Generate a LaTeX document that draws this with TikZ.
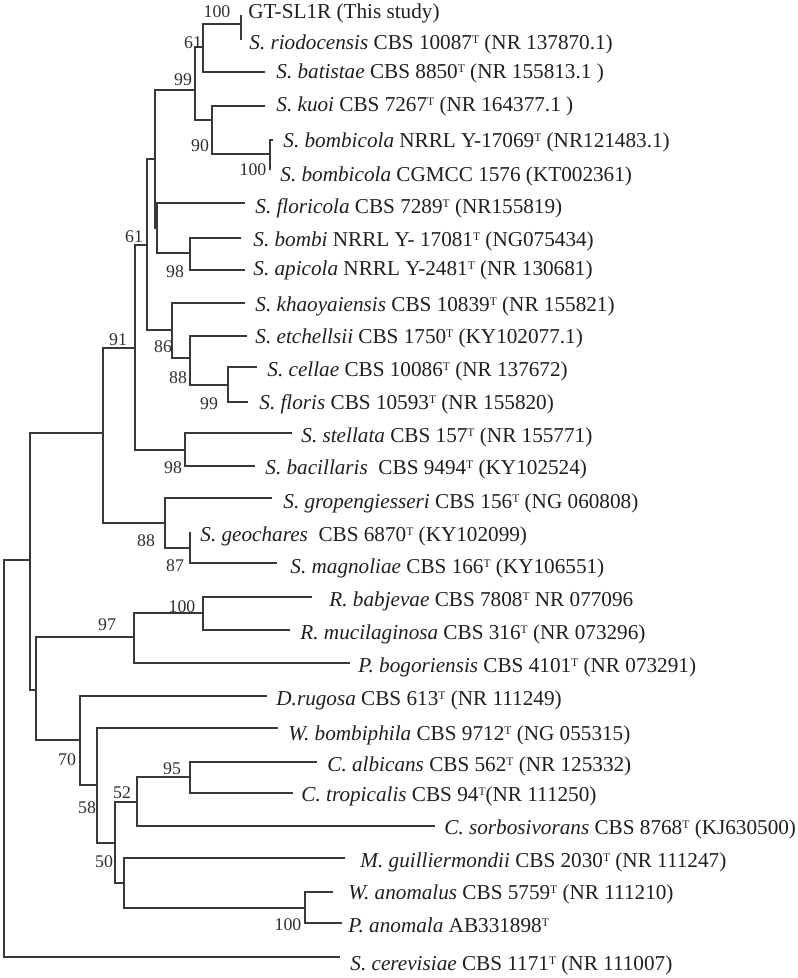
\documentclass[tikz,border=0pt]{standalone}
\usepackage{fontspec}
\setmainfont{Liberation Serif}
\newcommand{\tp}{\raisebox{0.55ex}{\fontsize{5.8}{6}\selectfont T}}
\begin{document}
\begin{tikzpicture}[x=0.5pt,y=-0.5pt,
    branch/.style={draw=black!78,line width=0.9pt},
    taxon/.style={anchor=west,inner sep=0pt,text=black!88,font=\fontsize{10.6}{12}\selectfont},
    boot/.style={inner sep=0pt,text=black!82,font=\fontsize{8.9}{10}\selectfont}]
  \useasboundingbox (0,0) rectangle (797,978);
  % tips
  \coordinate (gtsl) at (241,15);
  \coordinate (riodocensis) at (241,40);
  \coordinate (batistae) at (265,72);
  \coordinate (kuoi) at (265,106);
  \coordinate (bombicolaA) at (273,140);
  \coordinate (bombicolaB) at (270,170);
  \coordinate (floricola) at (245,203);
  \coordinate (bombi) at (241,238);
  \coordinate (apicola) at (245,270);
  \coordinate (khaoyaiensis) at (245,303);
  \coordinate (etchellsii) at (247,336);
  \coordinate (cellae) at (257,367);
  \coordinate (floris) at (248,402);
  \coordinate (stellata) at (292,433);
  \coordinate (bacillaris) at (255,466);
  \coordinate (gropengiesseri) at (272,498);
  \coordinate (geochares) at (190,532);
  \coordinate (magnoliae) at (277,563);
  \coordinate (babjevae) at (312,597);
  \coordinate (mucilaginosa) at (290,630);
  \coordinate (bogoriensis) at (350,663);
  \coordinate (rugosa) at (267,696);
  \coordinate (bombiphila) at (278,728);
  \coordinate (albicans) at (317,762);
  \coordinate (tropicalis) at (293,793);
  \coordinate (sorbosivorans) at (435,826);
  \coordinate (guilliermondii) at (345,858);
  \coordinate (wanomalus) at (333,892);
  \coordinate (panomala) at (342,923);
  \coordinate (cerevisiae) at (340,957);
  % internal nodes
  \coordinate (n1) at (241,24);
  \coordinate (n2) at (203,47);
  \coordinate (n3) at (270,154);
  \coordinate (n4) at (212,120);
  \coordinate (n5) at (195,90);
  \coordinate (n6) at (190,253);
  \coordinate (n7) at (157,228);
  \coordinate (n8) at (155,159);
  \coordinate (n9) at (228,385);
  \coordinate (n10) at (190,358);
  \coordinate (n11) at (172,330);
  \coordinate (n12) at (147,245);
  \coordinate (n13) at (185,450);
  \coordinate (n14) at (135,348);
  \coordinate (n15) at (190,548);
  \coordinate (n16) at (165,523);
  \coordinate (n17) at (103,433);
  \coordinate (n18) at (203,613);
  \coordinate (n19) at (134,637);
  \coordinate (n20) at (305,908);
  \coordinate (n21) at (124,883);
  \coordinate (n22) at (190,777);
  \coordinate (n23) at (137,802);
  \coordinate (n24) at (115,843);
  \coordinate (n25) at (97,785);
  \coordinate (n26) at (80,740);
  \coordinate (n27) at (36,690);
  \coordinate (n28) at (30,560);
  \coordinate (root) at (4,560);
  % branches
  \draw[branch] (gtsl) -| (n1) |- (riodocensis);
  \draw[branch] (n1) -| (n2) |- (batistae);
  \draw[branch] (bombicolaA) -| (n3) |- (bombicolaB);
  \draw[branch] (kuoi) -| (n4) |- (n3);
  \draw[branch] (n2) -| (n5) |- (n4);
  \draw[branch] (bombi) -| (n6) |- (apicola);
  \draw[branch] (floricola) -| (n7) |- (n6);
  \draw[branch] (n5) -| (n8) |- (n7);
  \draw[branch] (cellae) -| (n9) |- (floris);
  \draw[branch] (etchellsii) -| (n10) |- (n9);
  \draw[branch] (khaoyaiensis) -| (n11) |- (n10);
  \draw[branch] (n8) -| (n12) |- (n11);
  \draw[branch] (stellata) -| (n13) |- (bacillaris);
  \draw[branch] (n12) -| (n14) |- (n13);
  \draw[branch] (geochares) -| (n15) |- (magnoliae);
  \draw[branch] (gropengiesseri) -| (n16) |- (n15);
  \draw[branch] (n14) -| (n17) |- (n16);
  \draw[branch] (babjevae) -| (n18) |- (mucilaginosa);
  \draw[branch] (n18) -| (n19) |- (bogoriensis);
  \draw[branch] (wanomalus) -| (n20) |- (panomala);
  \draw[branch] (guilliermondii) -| (n21) |- (n20);
  \draw[branch] (albicans) -| (n22) |- (tropicalis);
  \draw[branch] (n22) -| (n23) |- (sorbosivorans);
  \draw[branch] (n23) -| (n24) |- (n21);
  \draw[branch] (bombiphila) -| (n25) |- (n24);
  \draw[branch] (rugosa) -| (n26) |- (n25);
  \draw[branch] (n19) -| (n27) |- (n26);
  \draw[branch] (n17) -| (n28) |- (n27);
  \draw[branch] (n28) -| (root) |- (cerevisiae);
  % taxon names
  \node[taxon] (lgtsl) at (248,13) {GT-SL1R (This study)};
  \node[taxon] (lriodocensis) at (249,44) {\textit{S. riodocensis} CBS 10087\tp{} (NR 137870.1)};
  \node[taxon] (lbatistae) at (276,73) {\textit{S. batistae} CBS 8850\tp{} (NR 155813.1 )};
  \node[taxon] (lkuoi) at (276,106) {\textit{S. kuoi} CBS 7267\tp{} (NR 164377.1 )};
  \node[taxon] (lbombicolaA) at (283,142) {\textit{S. bombicola} NRRL Y-17069\tp{} (NR121483.1)};
  \node[taxon] (lbombicolaB) at (280,176) {\textit{S. bombicola} CGMCC 1576 (KT002361)};
  \node[taxon] (lfloricola) at (255,208) {\textit{S. floricola} CBS 7289\tp{} (NR155819)};
  \node[taxon] (lbombi) at (253,241) {\textit{S. bombi} NRRL Y- 17081\tp{} (NG075434)};
  \node[taxon] (lapicola) at (253,270) {\textit{S. apicola} NRRL Y-2481\tp{} (NR 130681)};
  \node[taxon] (lkhaoyaiensis) at (255,306) {\textit{S. khaoyaiensis} CBS 10839\tp{} (NR 155821)};
  \node[taxon] (letchellsii) at (255,338) {\textit{S. etchellsii} CBS 1750\tp{} (KY102077.1)};
  \node[taxon] (lcellae) at (267,371) {\textit{S. cellae} CBS 10086\tp{} (NR 137672)};
  \node[taxon] (lfloris) at (259,404) {\textit{S. floris} CBS 10593\tp{} (NR 155820)};
  \node[taxon] (lstellata) at (301,437) {\textit{S. stellata} CBS 157\tp{} (NR 155771)};
  \node[taxon] (lbacillaris) at (265,469) {\textit{S. bacillaris}\ \ CBS 9494\tp{} (KY102524)};
  \node[taxon] (lgropengiesseri) at (283,503) {\textit{S. gropengiesseri} CBS 156\tp{} (NG 060808)};
  \node[taxon] (lgeochares) at (200,536) {\textit{S. geochares}\ \ CBS 6870\tp{} (KY102099)};
  \node[taxon] (lmagnoliae) at (290,568) {\textit{S. magnoliae} CBS 166\tp{} (KY106551)};
  \node[taxon] (lbabjevae) at (329,601) {\textit{R. babjevae} CBS 7808\tp{} NR 077096};
  \node[taxon] (lmucilaginosa) at (300,634) {\textit{R. mucilaginosa} CBS 316\tp{} (NR 073296)};
  \node[taxon] (lbogoriensis) at (358,667) {\textit{P. bogoriensis} CBS 4101\tp{} (NR 073291)};
  \node[taxon] (lrugosa) at (276,700) {\textit{D.rugosa} CBS 613\tp{} (NR 111249)};
  \node[taxon] (lbombiphila) at (288,735) {\textit{W. bombiphila} CBS 9712\tp{} (NG 055315)};
  \node[taxon] (lalbicans) at (327,766) {\textit{C. albicans} CBS 562\tp{} (NR 125332)};
  \node[taxon] (ltropicalis) at (301,796) {\textit{C. tropicalis} CBS 94\tp(NR 111250)};
  \node[taxon] (lsorbosivorans) at (444,829) {\textit{C. sorbosivorans} CBS 8768\tp{} (KJ630500)};
  \node[taxon] (lguilliermondii) at (360,862) {\textit{M. guilliermondii} CBS 2030\tp{} (NR 111247)};
  \node[taxon] (lwanomalus) at (348,894) {\textit{W. anomalus} CBS 5759\tp{} (NR 111210)};
  \node[taxon] (lpanomala) at (348,925) {\textit{P. anomala} AB331898\tp};
  \node[taxon] (lcerevisiae) at (350,965) {\textit{S. cerevisiae} CBS 1171\tp{} (NR 111007)};
  % bootstrap values
  \node[boot] (b1) at (217,12) {100};
  \node[boot] (b2) at (193,43) {61};
  \node[boot] (b5) at (183,80) {99};
  \node[boot] (b4) at (200,146) {90};
  \node[boot] (b3) at (253,170) {100};
  \node[boot] (b14) at (134,237) {61};
  \node[boot] (b6) at (175,272) {98};
  \node[boot] (b17) at (118,340) {91};
  \node[boot] (b11) at (163,347) {86};
  \node[boot] (b10) at (178,378) {88};
  \node[boot] (b9) at (209,404) {99};
  \node[boot] (b13) at (173,468) {98};
  \node[boot] (b16) at (146,541) {88};
  \node[boot] (b15) at (175,566) {87};
  \node[boot] (b18) at (182,607) {100};
  \node[boot] (b19) at (107,625) {97};
  \node[boot] (b26) at (67,760) {70};
  \node[boot] (b22) at (172,769) {95};
  \node[boot] (b23) at (122,793) {52};
  \node[boot] (b25) at (87,808) {58};
  \node[boot] (b24) at (104,862) {50};
  \node[boot] (b20) at (288,925) {100};
\end{tikzpicture}
\end{document}
